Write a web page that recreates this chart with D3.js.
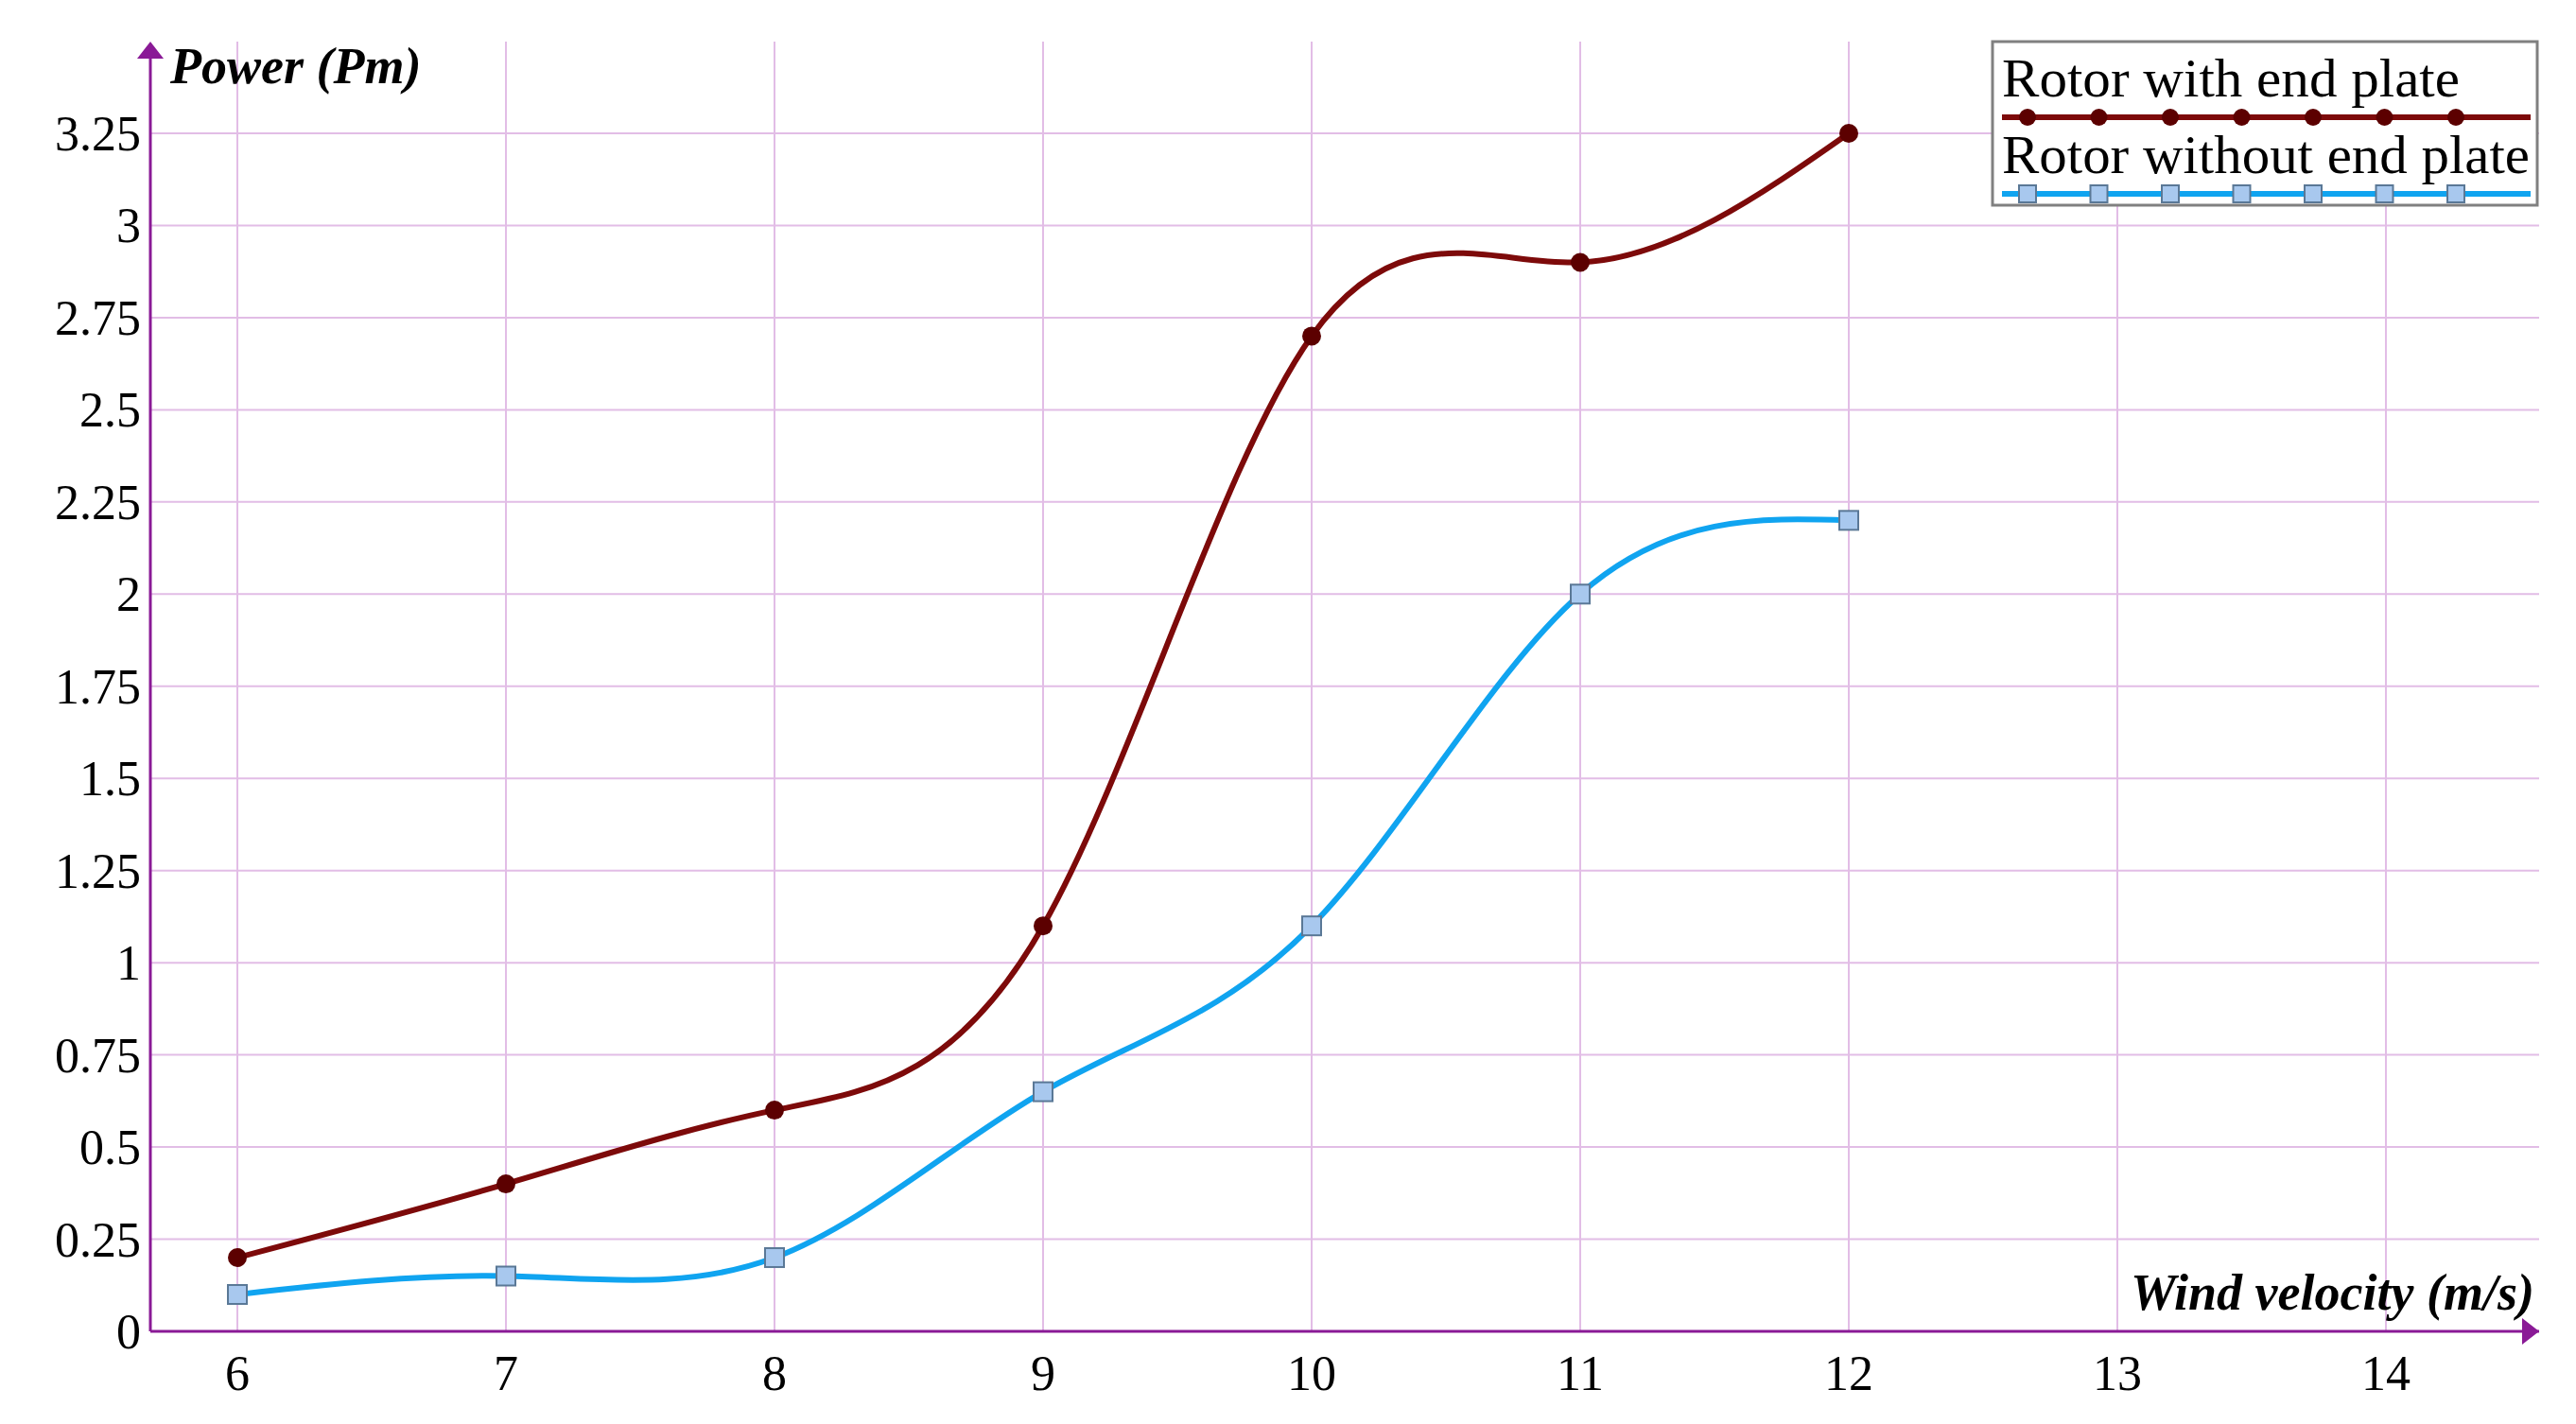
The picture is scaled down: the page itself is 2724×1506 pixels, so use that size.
<!DOCTYPE html>
<html><head><meta charset="utf-8">
<script src="https://cdn.jsdelivr.net/npm/d3@7"></script>
<style>body{margin:0;background:#fff}</style>
</head><body>
<script>
const W = 2724, H = 1506;
const speeds = [6, 7, 8, 9, 10, 11, 12];
const withPlate = [0.2, 0.4, 0.6, 1.1, 2.7, 2.9, 3.25];
const withoutPlate = [0.1, 0.15, 0.2, 0.65, 1.1, 2.0, 2.2];
const xTicks = [6, 7, 8, 9, 10, 11, 12, 13, 14];
const yTicks = [0, 0.25, 0.5, 0.75, 1, 1.25, 1.5, 1.75, 2, 2.25, 2.5, 2.75, 3, 3.25];
const seriesNames = ["Rotor with end plate", "Rotor without end plate"];

const svg = d3.select("body").append("svg").attr("width", W).attr("height", H);
const font = "'Liberation Serif', 'Times New Roman', serif";

// scales from pixel positions of 6 / 14 and 0 / 3.25
const x = d3.scaleLinear().domain([6, 14]).range([251, 2523]);
const y = d3.scaleLinear().domain([0, 3.25]).range([1408, 141]);
const axisX = 159, rightX = 2685, topY = 44;

const grid = "#e2bde6";
// horizontal grid
svg.selectAll(".hg").data(yTicks.filter(d => d > 0)).enter().append("line")
  .attr("x1", axisX).attr("x2", rightX)
  .attr("y1", d => y(d)).attr("y2", d => y(d))
  .attr("stroke", grid).attr("stroke-width", 2);
// vertical grid
svg.selectAll(".vg").data(xTicks).enter().append("line")
  .attr("x1", d => x(d)).attr("x2", d => x(d))
  .attr("y1", topY).attr("y2", y(0))
  .attr("stroke", grid).attr("stroke-width", 2);

// axes
const axisColor = "#8a1a96";
svg.append("line").attr("x1", axisX).attr("x2", rightX).attr("y1", y(0)).attr("y2", y(0))
  .attr("stroke", axisColor).attr("stroke-width", 3);
svg.append("line").attr("x1", axisX).attr("x2", axisX).attr("y1", topY + 10).attr("y2", y(0))
  .attr("stroke", axisColor).attr("stroke-width", 3);
svg.append("path").attr("d", `M${rightX - 18},${y(0) - 14}L${rightX},${y(0)}L${rightX - 18},${y(0) + 14}Z`).attr("fill", axisColor);
svg.append("path").attr("d", `M${axisX - 14},${topY + 18}L${axisX},${topY}L${axisX + 14},${topY + 18}Z`).attr("fill", axisColor);

// tick labels
svg.selectAll(".xt").data(xTicks).enter().append("text")
  .attr("x", d => x(d)).attr("y", y(0) + 62)
  .attr("text-anchor", "middle").attr("font-family", font).attr("font-size", 52)
  .text(d => d);
svg.selectAll(".yt").data(yTicks).enter().append("text")
  .attr("x", axisX - 10).attr("y", d => y(d) + 18)
  .attr("text-anchor", "end").attr("font-family", font).attr("font-size", 52)
  .text(d => d);

// axis titles
svg.append("text").attr("x", 180).attr("y", 88)
  .attr("font-family", font).attr("font-size", 54).attr("font-weight", "bold").attr("font-style", "italic")
  .text("Power (Pm)");
svg.append("text").attr("x", 2680).attr("y", 1385).attr("text-anchor", "end")
  .attr("font-family", font).attr("font-size", 54).attr("font-weight", "bold").attr("font-style", "italic")
  .text("Wind velocity (m/s)");

const line = d3.line().x(d => x(d[0])).y(d => y(d[1])).curve(d3.curveNatural);
const redPts = speeds.map((s, i) => [s, withPlate[i]]);
const bluePts = speeds.map((s, i) => [s, withoutPlate[i]]);

svg.append("path").attr("d", line(redPts)).attr("fill", "none").attr("stroke", "#7d0a0a").attr("stroke-width", 6);
svg.append("path").attr("d", line(bluePts)).attr("fill", "none").attr("stroke", "#10a4f0").attr("stroke-width", 6);

svg.selectAll(".rc").data(redPts).enter().append("circle")
  .attr("cx", d => x(d[0])).attr("cy", d => y(d[1])).attr("r", 10).attr("fill", "#5c0000");
svg.selectAll(".bs").data(bluePts).enter().append("rect")
  .attr("x", d => x(d[0]) - 10).attr("y", d => y(d[1]) - 10).attr("width", 20).attr("height", 20)
  .attr("fill", "#a8c8ee").attr("stroke", "#5a7896").attr("stroke-width", 2);

// legend
const lg = svg.append("g");
lg.append("rect").attr("x", 2107).attr("y", 44).attr("width", 576).attr("height", 173)
  .attr("fill", "#fff").attr("stroke", "#808080").attr("stroke-width", 3);
const legendMarks = d3.range(7).map(i => 2144 + i * 75.5);
[0, 1].forEach(k => {
  const ly = k === 0 ? 124 : 205;
  lg.append("text").attr("x", 2117).attr("y", ly - 22).attr("font-family", font).attr("font-size", 56)
    .attr("textLength", k === 0 ? 484 : 558).attr("lengthAdjust", "spacingAndGlyphs")
    .text(seriesNames[k]);
  lg.append("line").attr("x1", 2117).attr("x2", 2676).attr("y1", ly).attr("y2", ly)
    .attr("stroke", k === 0 ? "#7d0a0a" : "#10a4f0").attr("stroke-width", 6);
  if (k === 0) {
    lg.selectAll(".lc").data(legendMarks).enter().append("circle")
      .attr("cx", d => d).attr("cy", ly).attr("r", 9).attr("fill", "#5c0000");
  } else {
    lg.selectAll(".ls").data(legendMarks).enter().append("rect")
      .attr("x", d => d - 9).attr("y", ly - 9).attr("width", 18).attr("height", 18)
      .attr("fill", "#a8c8ee").attr("stroke", "#5a7896").attr("stroke-width", 2);
  }
});
</script>
</body></html>
